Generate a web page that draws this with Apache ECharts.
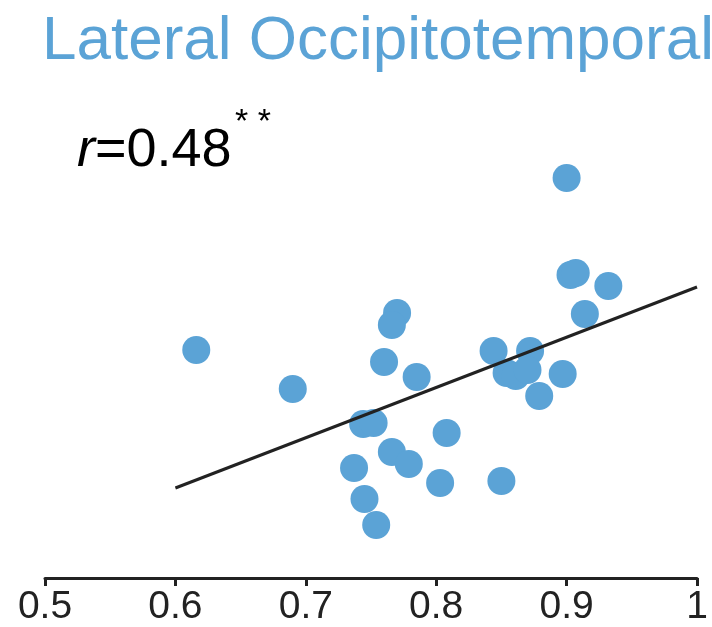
<!DOCTYPE html>
<html>
<head>
<meta charset="utf-8">
<script src="https://cdn.jsdelivr.net/npm/echarts@6/dist/echarts.min.js"></script>
<style>
  html, body { margin: 0; padding: 0; background: #fff; }
  #chart { width: 712px; height: 627px; }
</style>
</head>
<body>
<div id="chart"></div>
<script>
// Per-subject similarity (x) against behavioural score (y)
const xValues = [0.616, 0.690, 0.900, 0.903, 0.907, 0.932, 0.914, 0.770, 0.766, 0.760,
                 0.785, 0.844, 0.872, 0.854, 0.861, 0.870, 0.897, 0.879, 0.744, 0.752,
                 0.808, 0.766, 0.779, 0.737, 0.803, 0.850, 0.745, 0.754];
const yValues = [2.28, 1.89, 4.00, 3.03, 3.05, 2.92, 2.64, 2.65, 2.53, 2.16,
                 2.01, 2.27, 2.27, 2.05, 2.02, 2.08, 2.04, 1.82, 1.54, 1.55,
                 1.45, 1.26, 1.14, 1.10, 0.95, 0.97, 0.79, 0.53];
// Least-squares fit drawn across the sampled range
const fitX = [0.6, 1.0];
const fitY = [0.90, 2.91];
const xTicks = [0.5, 0.6, 0.7, 0.8, 0.9, 1];
const titleText = 'Lateral Occipitotemporal';
const rText = '0.48';
const sigText = '**';

const points = xValues.map((x, i) => [x, yValues[i]]);
const fitLine = fitX.map((x, i) => [x, fitY[i]]);
const FONT = 'Liberation Sans, Arial, sans-serif';

const chart = echarts.init(document.getElementById('chart'));
chart.setOption({
  animation: false,
  backgroundColor: '#fff',
  title: {
    text: titleText,
    left: 37,
    top: 6,
    textStyle: {
      color: '#5ba3d6',
      fontFamily: FONT,
      fontWeight: 'normal',
      fontSize: 62
    }
  },
  graphic: [
    {
      type: 'text',
      left: 77,
      top: 124,
      style: {
        rich: {
          r: { fontStyle: 'italic', fontSize: 54, fill: '#000', fontFamily: FONT },
          v: { fontSize: 54, fill: '#000', fontFamily: FONT }
        },
        text: '{r|r}{v|=' + rText + '}'
      }
    },
    {
      type: 'text',
      left: 235,
      top: 106,
      style: {
        text: sigText.split('').join(' '),
        fontSize: 34,
        fill: '#000',
        fontFamily: FONT
      }
    }
  ],
  grid: { left: 45, right: 15, top: 78, bottom: 49, containLabel: false },
  xAxis: {
    type: 'value',
    min: 0.5,
    max: 1,
    interval: 0.1,
    splitLine: { show: false },
    axisLine: { show: true, lineStyle: { color: '#222', width: 3 } },
    axisTick: { show: true, length: 8, inside: false, lineStyle: { color: '#222', width: 3 } },
    axisLabel: {
      color: '#222',
      fontSize: 39,
      margin: 10,
      fontFamily: FONT,
      formatter: v => {
        const t = xTicks.find(k => Math.abs(k - v) < 1e-6);
        return t === undefined ? '' : String(t);
      }
    }
  },
  yAxis: {
    type: 'value',
    min: 0,
    max: 5,
    show: false
  },
  series: [
    {
      type: 'line',
      data: fitLine,
      symbol: 'none',
      lineStyle: { color: '#222', width: 3 },
      z: 3
    },
    {
      type: 'scatter',
      data: points,
      symbolSize: 28,
      itemStyle: { color: '#5ba3d6', opacity: 1 },
      z: 2
    }
  ]
});
</script>
</body>
</html>
